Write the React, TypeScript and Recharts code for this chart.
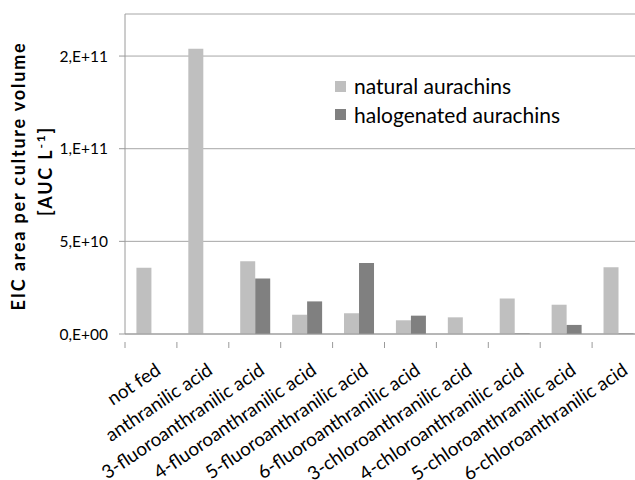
import { BarChart, Bar, XAxis, YAxis, CartesianGrid } from 'recharts'

const categories = [
  'not fed',
  'anthranilic acid',
  '3-fluoroanthranilic acid',
  '4-fluoroanthranilic acid',
  '5-fluoroanthranilic acid',
  '6-fluoroanthranilic acid',
  '3-chloroanthranilic acid',
  '4-chloroanthranilic acid',
  '5-chloroanthranilic acid',
  '6-chloroanthranilic acid',
]
const natural = [3.58e10, 1.54e11, 3.92e10, 1.04e10, 1.12e10, 7.4e9, 9.0e9, 1.92e10, 1.58e10, 3.6e10]
const halogenated = [0, 0, 2.99e10, 1.76e10, 3.83e10, 9.9e9, 0, 3e8, 4.9e9, 3e8]
const yTicks = [0, 5e10, 1e11, 1.5e11]
const seriesNames = ['natural aurachins', 'halogenated aurachins']

const data = categories.map((name, i) => ({ name, natural: natural[i], halogenated: halogenated[i] }))

const FONT = 'Lato, "Open Sans", sans-serif'
const W = 660
const H = 480
const M = { top: 14, right: 16, bottom: 16, left: 55 }
const Y_W = 70
const BAND = (W - M.left - M.right - Y_W) / categories.length
const AXIS = '#9a9a9a'
const COLORS = ['#bfbfbf', '#808080']

// Excel "0,E+00" style: mantissa rounded to integer
const fmt = (v: number) => {
  if (v === 0) return '0,E+00'
  const e = Math.floor(Math.log10(v))
  const m = Math.round(v / Math.pow(10, e))
  return `${m},E+${e}`
}

const XTick = (props: any) => {
  const { x, y, payload } = props
  const bx = x - BAND / 2
  const tx = x + 11
  const ty = y + 31
  return (
    <g>
      <line x1={bx} y1={y} x2={bx} y2={y + 6} stroke={AXIS} />
      <text
        x={tx}
        y={ty}
        transform={`rotate(-34, ${tx}, ${ty})`}
        textAnchor="end"
        fontSize={18.8}
        fontFamily={FONT}
        fill="#000"
      >
        {payload.value}
      </text>
    </g>
  )
}

const YLabel = () => (
  <text
    transform="rotate(-90)"
    fontFamily={FONT}
    fontWeight="bold"
    fontSize={18}
    letterSpacing={1.8}
    fill="#000"
    textAnchor="middle"
  >
    <tspan x={-176} y={25}>EIC area per culture volume</tspan>
    <tspan x={-171} y={52}>
      [AUC L<tspan dy={-7} fontSize={12}>-1</tspan>
      <tspan dy={7}>]</tspan>
    </tspan>
  </text>
)

export default function App() {
  return (
    <div style={{ position: 'fixed', left: 0, top: 0, width: 635, height: 480, overflow: 'hidden', background: '#fff' }}>
      <BarChart width={W} height={H} data={data} margin={M} barCategoryGap="22%" barGap={0}>
        <CartesianGrid vertical={false} stroke="#a6a6a6" />
        <XAxis dataKey="name" interval={0} height={130} stroke={AXIS} tickLine={false} tick={<XTick />} />
        <YAxis
          width={Y_W}
          domain={[0, 1.727e11]}
          ticks={yTicks}
          tickFormatter={fmt}
          stroke={AXIS}
          tickSize={6}
          tickMargin={11}
          tick={{ fontSize: 15.5, fontFamily: FONT, fill: '#000' }}
        />
        <Bar dataKey="natural" fill={COLORS[0]} isAnimationActive={false} />
        <Bar dataKey="halogenated" fill={COLORS[1]} isAnimationActive={false} />
        <YLabel />
      </BarChart>
      <div
        style={{
          position: 'absolute',
          left: 335,
          top: 72,
          fontFamily: FONT,
          fontSize: 21,
          color: '#000',
          lineHeight: '28.5px',
        }}
      >
        {seriesNames.map((t, i) => (
          <div key={t} style={{ display: 'flex', alignItems: 'center', whiteSpace: 'nowrap' }}>
            <span style={{ width: 11, height: 11, background: COLORS[i], marginRight: 8, display: 'inline-block' }} />
            {t}
          </div>
        ))}
      </div>
    </div>
  )
}
